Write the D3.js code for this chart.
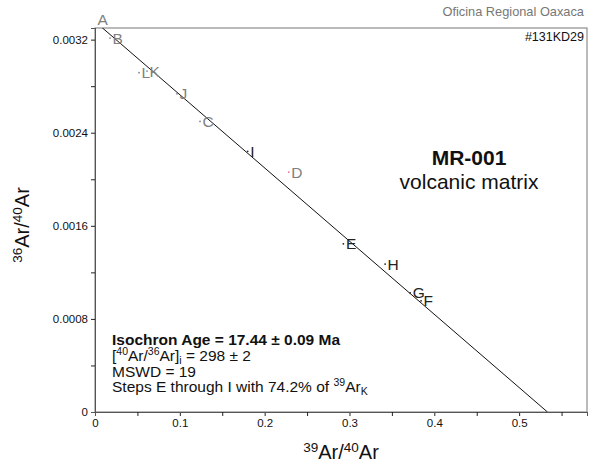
<!DOCTYPE html>
<html>
<head>
<meta charset="utf-8">
<script src="https://cdn.jsdelivr.net/npm/d3@7"></script>
<style>
  body { margin: 0; background: #fff; }
  svg { font-family: "Liberation Sans", Arial, sans-serif; }
</style>
</head>
<body>
<svg></svg>
<script>
var width = 592;
var height = 465;

// step data: 39Ar/40Ar, 36Ar/40Ar
var steps = ["A", "B", "C", "D", "E", "F", "G", "H", "I", "J", "K", "L"];
var xVals = [0.000, 0.0177, 0.1238, 0.2284, 0.2928, 0.3844, 0.3715, 0.3420, 0.1800, 0.0967, 0.0613, 0.0519];
var yVals = [0.00337, 0.003213, 0.002497, 0.002062, 0.001445, 0.000955, 0.001024, 0.001271, 0.002240, 0.002735, 0.002930, 0.002916];
var inFit = [false, false, false, false, true, true, true, true, true, false, false, false];

var xTicks = [0, 0.1, 0.2, 0.3, 0.4, 0.5];
var xMinor = [0.05, 0.15, 0.25, 0.35, 0.45, 0.55];
var yTicks = [0, 0.0008, 0.0016, 0.0024, 0.0032];
var yMinor = [0.0004, 0.0012, 0.002, 0.0028];

// isochron fit: y intercept = 1/298, x intercept
var yIntercept = 1 / 298;
var xIntercept = 0.5334;

var svg = d3.select("svg")
            .attr("width", width)
            .attr("height", height);

var xScale = d3.scaleLinear()
               .domain([0, 0.58])
               .range([95, 587]);

var yScale = d3.scaleLinear()
               .domain([0, 0.0033])
               .range([412, 28]);

svg.append("clipPath")
   .attr("id", "plotclip")
   .append("rect")
   .attr("x", 95).attr("y", 28)
   .attr("width", 492).attr("height", 384);

// frame
svg.append("rect")
   .attr("x", 95).attr("y", 28)
   .attr("width", 492).attr("height", 384)
   .attr("fill", "none")
   .attr("stroke", "#777")
   .attr("stroke-width", 1);

// axes
svg.append("g")
   .attr("transform", "translate(0,412)")
   .call(d3.axisBottom(xScale).tickValues(xTicks).tickSize(4)
           .tickFormat(function(d) { return d === 0 ? "0" : d3.format(".1f")(d); }));

svg.append("g")
   .attr("transform", "translate(0,412)")
   .call(d3.axisBottom(xScale).tickValues(xMinor).tickSize(4).tickFormat(""));

svg.append("g")
   .attr("transform", "translate(95,0)")
   .call(d3.axisLeft(yScale).tickValues(yTicks).tickSize(4)
           .tickFormat(function(d) { return d === 0 ? "0" : d3.format(".4f")(d); }));

svg.append("g")
   .attr("transform", "translate(95,0)")
   .call(d3.axisLeft(yScale).tickValues(yMinor).tickSize(4).tickFormat(""));

svg.selectAll(".domain").attr("stroke", "#555");
svg.selectAll(".tick line").attr("stroke", "#222");
svg.selectAll(".tick text")
   .attr("font-family", "Liberation Sans, Arial, sans-serif")
   .attr("font-size", 11.5)
   .attr("fill", "#111");

// isochron line
svg.append("line")
   .attr("clip-path", "url(#plotclip)")
   .attr("x1", xScale(0)).attr("y1", yScale(yIntercept))
   .attr("x2", xScale(xIntercept)).attr("y2", yScale(0))
   .attr("stroke", "#111")
   .attr("stroke-width", 1);

var data = steps.map(function(s, i) {
  return { step: s, x: xVals[i], y: yVals[i], fit: inFit[i] };
});

// points (tiny error ellipses)
svg.append("g")
   .attr("clip-path", "url(#plotclip)")
   .selectAll("circle")
   .data(data)
   .enter()
   .append("circle")
   .attr("cx", function(d) { return xScale(d.x); })
   .attr("cy", function(d) { return yScale(d.y); })
   .attr("r", 0.9)
   .attr("fill", function(d) { return d.step === "D" ? "#e0709a" : (d.fit ? "#222" : "#888"); });

// step labels
svg.append("g")
   .selectAll("text")
   .data(data)
   .enter()
   .append("text")
   .attr("x", function(d) { return xScale(d.x) + 2.5; })
   .attr("y", function(d) { return yScale(d.y) + 5.5; })
   .attr("font-size", 15.5)
   .attr("fill", function(d) { return d.fit ? "#222" : "#808080"; })
   .text(function(d) { return d.step; });

// header texts
svg.append("text")
   .attr("x", 584).attr("y", 16)
   .attr("text-anchor", "end")
   .attr("font-size", 12.8)
   .attr("fill", "#777")
   .text("Oficina Regional Oaxaca");

svg.append("text")
   .attr("x", 584).attr("y", 41)
   .attr("text-anchor", "end")
   .attr("font-size", 12.5)
   .attr("fill", "#111")
   .text("#131KD29");

svg.append("text")
   .attr("x", 469).attr("y", 165)
   .attr("text-anchor", "middle")
   .attr("font-size", 21)
   .attr("font-weight", "bold")
   .attr("fill", "#111")
   .text("MR-001");

svg.append("text")
   .attr("x", 469).attr("y", 189)
   .attr("text-anchor", "middle")
   .attr("font-size", 21)
   .attr("fill", "#111")
   .text("volcanic matrix");

// results block
var info = svg.append("g").attr("font-size", 15.5).attr("fill", "#111");

info.append("text")
    .attr("x", 112).attr("y", 345)
    .attr("font-weight", "bold")
    .text("Isochron Age = 17.44 \u00b1 0.09 Ma");

var t2 = info.append("text").attr("x", 112).attr("y", 361);
t2.append("tspan").text("[");
t2.append("tspan").attr("font-size", 10.5).attr("dy", -6).text("40");
t2.append("tspan").attr("dy", 6).text("Ar/");
t2.append("tspan").attr("font-size", 10.5).attr("dy", -6).text("36");
t2.append("tspan").attr("dy", 6).text("Ar]");
t2.append("tspan").attr("font-size", 10.5).attr("dy", 3).text("i");
t2.append("tspan").attr("dy", -3).text(" = 298 \u00b1 2");

info.append("text")
    .attr("x", 112).attr("y", 376.5)
    .text("MSWD = 19");

var t4 = info.append("text").attr("x", 112).attr("y", 392);
t4.append("tspan").text("Steps E through I with 74.2% of ");
t4.append("tspan").attr("font-size", 10.5).attr("dy", -6).text("39");
t4.append("tspan").attr("dy", 6).text("Ar");
t4.append("tspan").attr("font-size", 10.5).attr("dy", 3).text("K");

// axis titles
var xt = svg.append("text")
   .attr("x", 341).attr("y", 459)
   .attr("text-anchor", "middle")
   .attr("font-size", 20)
   .attr("fill", "#111");
xt.append("tspan").attr("font-size", 13.5).attr("dy", -7).text("39");
xt.append("tspan").attr("dy", 7).text("Ar/");
xt.append("tspan").attr("font-size", 13.5).attr("dy", -7).text("40");
xt.append("tspan").attr("dy", 7).text("Ar");

var yt = svg.append("text")
   .attr("transform", "translate(29,225) rotate(-90)")
   .attr("text-anchor", "middle")
   .attr("font-size", 20)
   .attr("fill", "#111");
yt.append("tspan").attr("font-size", 13.5).attr("dy", -7).text("36");
yt.append("tspan").attr("dy", 7).text("Ar/");
yt.append("tspan").attr("font-size", 13.5).attr("dy", -7).text("40");
yt.append("tspan").attr("dy", 7).text("Ar");
</script>
</body>
</html>
